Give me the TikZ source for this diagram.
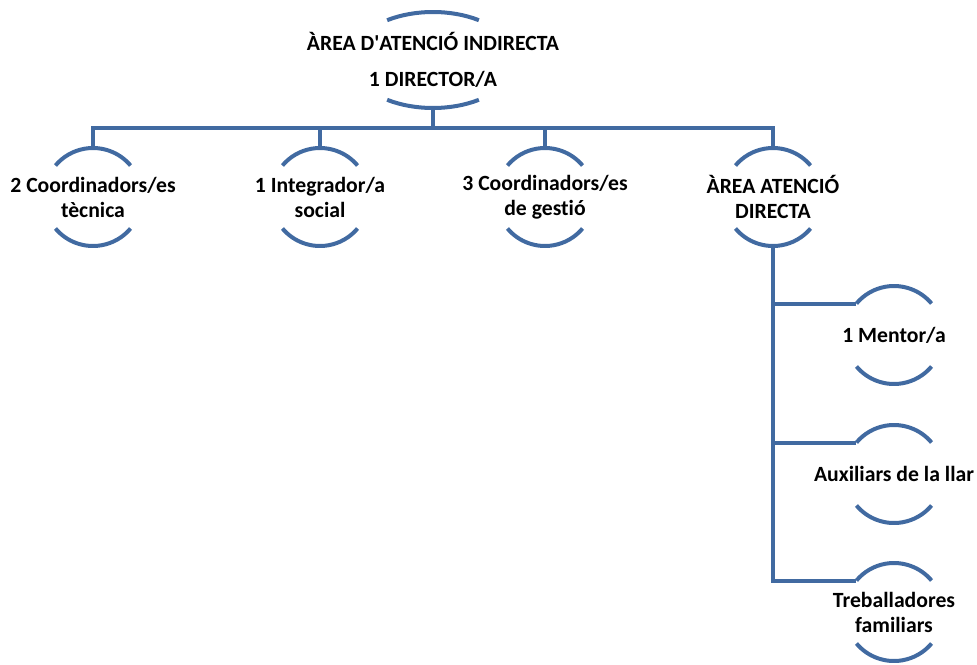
\documentclass[tikz,border=0pt]{standalone}
\usepackage{fontspec}
\setmainfont{Carlito}[Ligatures={TeX,NoCommon}]
\usepackage{xcolor}
\usepackage{tikz}
\usetikzlibrary{positioning}
\definecolor{orgblue}{RGB}{65,106,161}
\tikzstyle{unit}=[align=center,text=black,font=\fontsize{21.7}{25}\selectfont\bfseries]
\tikzstyle{brk}=[draw=orgblue,line width=4pt]
\tikzstyle{link}=[draw=orgblue,line width=4pt]
% arcs round a unit: name, x radius, y radius, angle
\newcommand{\unitarcs}[4]{
	\path[draw,brk] (#1.center) ++(#4:#2 and #3) arc[start angle=#4,end 
	angle=180-#4,x radius=#2,y radius=#3];
	\path[draw,brk] (#1.center) ++(180+#4:#2 and #3) arc[start 
	angle=180+#4,end angle=360-#4,x radius=#2,y radius=#3];
	\path (#1.center) ++(90:#2 and #3) coordinate (#1-n);
	\path (#1.center) ++(270:#2 and #3) coordinate (#1-s);
	\path (#1.center) ++(180-#4:#2 and #3) coordinate (#1-w);
}

\begin{document}
\begin{tikzpicture}[x=1pt,y=1pt]
	\useasboundingbox (0,0) rectangle (977,-664);

	\node[unit] (dir) at (433,-60) {ÀREA D\textquotesingle ATENCIÓ 
	INDIRECTA\\[11pt]1 DIRECTOR/A};
	\unitarcs{dir}{82pt}{48pt}{56}

% % % second level
	\node[unit] (tec) at (93,-197) {2 Coordinadors/es\\tècnica};
	\node[unit] (int) at (320,-197) {1 Integrador/a\\social};
	\node[unit] (ges) at (545,-197) {3 Coordinadors/es\\de gestió};
	\node[unit] (aad) at (773,-197) {ÀREA ATENCIÓ\\DIRECTA};
	\unitarcs{tec}{49pt}{49pt}{40}
	\unitarcs{int}{49pt}{49pt}{40}
	\unitarcs{ges}{49pt}{49pt}{40}
	\unitarcs{aad}{49pt}{49pt}{40}

	\path[draw,link] (dir-s) -- ++(0,-20) coordinate (bar);
	\path[draw,link] (tec-n) |- (bar -| aad-n) -- (aad-n);
	\path[draw,link] (bar -| int-n) -- (int-n);
	\path[draw,link] (bar -| ges-n) -- (ges-n);

% % % third level
	\node[unit] (men) at (894,-335) {1 Mentor/a};
	\node[unit] (aux) at (894,-474) {Auxiliars de la llar};
	\node[unit] (tre) at (894,-612) {Treballadores\\familiars};
	\unitarcs{men}{49pt}{49pt}{40}
	\unitarcs{aux}{49pt}{49pt}{40}
	\unitarcs{tre}{49pt}{49pt}{40}

	\path[draw,link] (aad-s) |- (tre-w);
	\path[draw,link] (aad-s |- men-w) -- (men-w);
	\path[draw,link] (aad-s |- aux-w) -- (aux-w);
\end{tikzpicture}
\end{document}
